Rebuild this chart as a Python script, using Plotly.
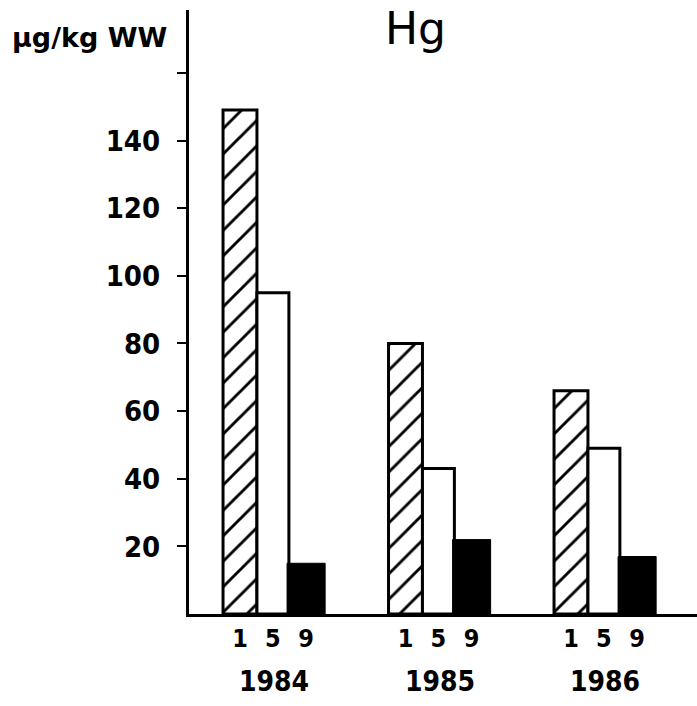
import plotly.graph_objects as go

# Mercury concentration (µg/kg wet weight) at stations 1, 5 and 9, per year
years = ["1984", "1985", "1986"]
stations = ["1", "5", "9"]
station_1 = [149, 80, 66]
station_5 = [95, 43, 49]
station_9 = [15, 22, 17]

y_ticks = [20, 40, 60, 80, 100, 120, 140, 160]
y_tick_text = ["20", "40", "60", "80", "100", "120", "140", ""]

NARROW = "DejaVu Sans Condensed, Liberation Sans Narrow, Arial Narrow, sans-serif"
group_pos = list(range(len(years)))

# bar placement inside a group (x units, one group per unit)
bar_layout = [(-0.308, 0.205), (-0.103, 0.193), (0.079, 0.230)]

fig = go.Figure()

styles = [
    dict(color="white", line=dict(color="black", width=3),
         pattern=dict(shape="/", fgcolor="black", fgopacity=1, bgcolor="white",
                      size=18, solidity=0.16)),
    dict(color="white", line=dict(color="black", width=3)),
    dict(color="black", line=dict(color="black", width=1)),
]

for values, (off, w), marker, name in zip([station_1, station_5, station_9], bar_layout, styles, stations):
    fig.add_trace(go.Bar(
        x=group_pos, y=values, offset=off, width=w,
        marker=marker, name=name, showlegend=False,
    ))

# station numbers under each bar
tick_vals, tick_text = [], []
for g in group_pos:
    for (off, w), s in zip(bar_layout, stations):
        tick_vals.append(g + off + w / 2)
        tick_text.append(s)

fig.update_layout(
    width=697, height=706,
    margin=dict(l=189, r=0, t=10, b=92),
    plot_bgcolor="white", paper_bgcolor="white",
    font=dict(family=NARROW, color="black"),
    xaxis=dict(
        range=[-0.5136, 2.5559], showgrid=False, zeroline=False,
        showline=True, linecolor="black", linewidth=3,
        tickvals=tick_vals, ticktext=tick_text, ticks="",
        tickfont=dict(family=NARROW, size=25, weight="bold"),
        ticklabelstandoff=0,
    ),
    yaxis=dict(
        range=[0, 178.6], showgrid=False, zeroline=False,
        showline=True, linecolor="black", linewidth=3,
        tickvals=y_ticks, ticktext=y_tick_text,
        ticks="outside", ticklen=9, tickwidth=2, tickcolor="black",
        tickfont=dict(family=NARROW, size=29, weight="bold"),
        ticklabelstandoff=11,
    ),
)

# year labels below each group
for g, yr in zip(group_pos, years):
    fig.add_annotation(x=g, y=-0.111, xref="x", yref="paper", text=yr,
                       showarrow=False, xanchor="center", yanchor="middle",
                       font=dict(family=NARROW, size=28, weight="bold"))

fig.add_annotation(x=0.445, y=1.0, xref="paper", yref="paper", text="Hg",
                   showarrow=False, xanchor="center", yanchor="top", yshift=9,
                   font=dict(family="DejaVu Sans, sans-serif", size=44))

fig.add_annotation(x=-0.195, y=0.954, xref="paper", yref="paper", text="µg/kg WW",
                   showarrow=False, xanchor="center", yanchor="middle",
                   font=dict(family="DejaVu Sans, sans-serif", size=27, weight="bold"))

fig.write_html("out.html")
